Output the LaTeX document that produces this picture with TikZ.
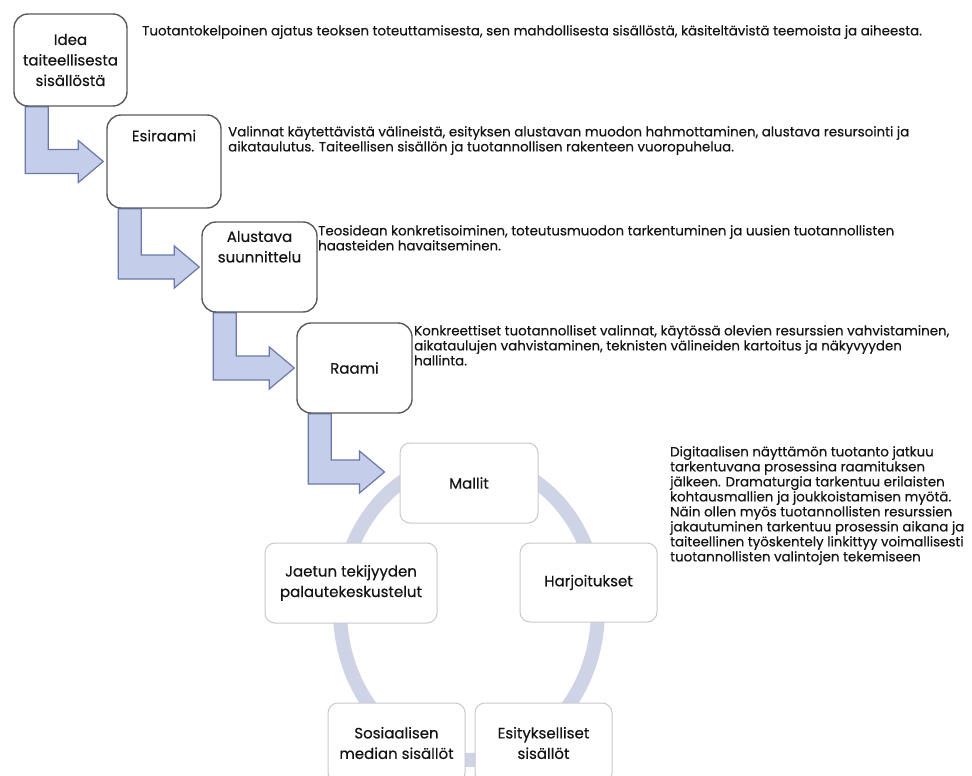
\documentclass[tikz,border=0pt]{standalone}
\usepackage{fontspec}
\setmainfont{Poppins}[FakeBold=0.4]
\usetikzlibrary{calc,backgrounds}

\definecolor{arrowfill}{RGB}{196,205,233}
\definecolor{arrowline}{RGB}{105,120,170}
\definecolor{ringcol}{RGB}{206,211,229}
\definecolor{boxline}{RGB}{90,90,95}
\definecolor{cycleline}{RGB}{200,200,205}
\definecolor{inkcol}{RGB}{20,20,20}

\newcommand{\descfont}{\fontsize{13.4}{15}\selectfont}
\newcommand{\boxfont}{\fontsize{15}{20.5}\selectfont}

\newcommand{\bentarrow}[2]{%
  \filldraw[bent] let \p1=(#1.south west), \p2=(#2) in
    (\x1+12pt,\y1) -- (\x1+12pt,\y2-12pt) -- (\x2-25pt,\y2-12pt) -- (\x2-25pt,\y2-21pt)
    -- (\x2,\y2) -- (\x2-25pt,\y2+21pt) -- (\x2-25pt,\y2+12pt) -- (\x1+35pt,\y2+12pt)
    -- (\x1+35pt,\y1) -- cycle;}

\begin{document}
\begin{tikzpicture}[x=1pt,y=-1pt,
    stage/.style={draw=boxline, line width=1.4pt, rounded corners=14pt, fill=white,
                  align=center, font=\boxfont, text=inkcol},
    cyclebox/.style={draw=cycleline, line width=1pt, rounded corners=10pt, fill=white,
                  align=center, font=\boxfont, text=inkcol},
    desc/.style={anchor=north west, align=left, inner sep=0pt, font=\descfont, text=inkcol},
    bent/.style={fill=arrowfill, draw=arrowline, line width=1.2pt, line join=miter},
    ring/.style={draw=ringcol, line width=14pt}]

                \useasboundingbox (0,0) rectangle (972,776);

                % kierto
                \coordinate (hub) at (469,610);
                \draw[ring] (hub) ellipse [x radius=129, y radius=150];

                \node[stage, minimum width=113, minimum height=92] (idea) at (70.5,60) {Idea\\taiteellisesta\\sisällöstä};
                \node[stage, minimum width=114, minimum height=93,
                      label={[anchor=north, yshift=-12pt, font=\boxfont, text=inkcol]north:Esiraami}] (esiraami) at (164,161.5) {};
                \node[stage, minimum width=115, minimum height=90,
                      label={[anchor=north, yshift=-6pt, align=center, font=\boxfont, text=inkcol]north:Alustava\\suunnittelu}] (alustava) at (259.5,267) {};
                \node[stage, minimum width=115, minimum height=90] (raami) at (354.5,368) {Raami};

                \node[cyclebox, minimum width=138, minimum height=80] (mallit) at (469,483) {Mallit};
                \node[cyclebox, minimum width=137, minimum height=79] (harj) at (588.5,582.5) {Harjoitukset};
                \node[cyclebox, minimum width=172, minimum height=80] (jaetun) at (351,583) {Jaetun tekijyyden\\palautekeskustelut};
                \node[cyclebox, minimum width=137, minimum height=80] (somes) at (396.5,743) {Sosiaalisen\\median sisällöt};
                \node[cyclebox, minimum width=137, minimum height=80] (esit) at (543.5,743) {Esitykselliset\\sisällöt};

                \begin{scope}[on background layer]
                    \bentarrow{idea}{$(esiraami.west)+(-3,0)$}
                    \bentarrow{esiraami}{$(alustava.west)+(-2,0)$}
                    \bentarrow{alustava}{$(raami.west)+(-2,0)$}
                    \bentarrow{raami}{$(mallit.west)+(-15,-11)$}
                \end{scope}

                \node[desc] (ideatext) at (142,25) {Tuotantokelpoinen ajatus teoksen toteuttamisesta, sen mahdollisesta sisällöstä, käsiteltävistä teemoista ja aiheesta.};
                \node[desc] (esitext) at (228,126) {Valinnat käytettävistä välineistä, esityksen alustavan muodon hahmottaminen, alustava resursointi ja\\aikataulutus. Taiteellisen sisällön ja tuotannollisen rakenteen vuoropuhelua.};
                \node[desc] (alutext) at (318,225) {Teosidean konkretisoiminen, toteutusmuodon tarkentuminen ja uusien tuotannollisten\\haasteiden havaitseminen.};
                \node[desc] (raamitext) at (414,325) {Konkreettiset tuotannolliset valinnat, käytössä olevien resurssien vahvistaminen,\\aikataulujen vahvistaminen, teknisten välineiden kartoitus ja näkyvyyden\\hallinta.};
                \node[desc] (mallitext) at (670,446) {Digitaalisen näyttämön tuotanto jatkuu\\tarkentuvana prosessina raamituksen\\jälkeen. Dramaturgia tarkentuu erilaisten\\kohtausmallien ja joukkoistamisen myötä.\\Näin ollen myös tuotannollisten resurssien\\jakautuminen tarkentuu prosessin aikana ja\\taiteellinen työskentely linkittyy voimallisesti\\tuotannollisten valintojen tekemiseen};
            \end{tikzpicture}
\end{document}
